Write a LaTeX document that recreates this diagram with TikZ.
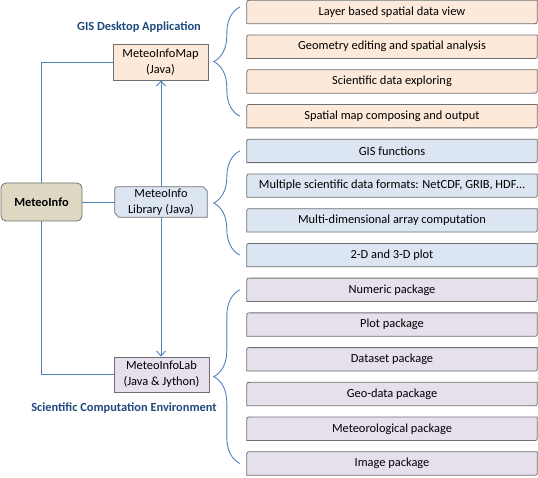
\documentclass[tikz,border=0pt]{standalone}
\usepackage{fontspec}
\setmainfont{Carlito}
\usetikzlibrary{arrows.meta,decorations.pathreplacing,backgrounds}
\definecolor{mapfill}{HTML}{FDE9D9}
\definecolor{libfill}{HTML}{DCE6F2}
\definecolor{labfill}{HTML}{E6E0EC}
\definecolor{infofill}{HTML}{DDD9C3}
\definecolor{linkblue}{HTML}{4F81BD}
\definecolor{headblue}{HTML}{1F497D}
\definecolor{edge}{HTML}{6F6F6F}
\tikzset{
  every node/.style={font=\fontsize{12.4}{16}\selectfont, inner sep=0pt, align=center},
  module/.style={draw=edge, line width=.8pt, minimum width=95pt, minimum height=36pt},
  feature/.style={minimum width=290pt, minimum height=23pt},
  link/.style={draw=linkblue, line width=.9pt},
  curly/.style={link, decorate, decoration={brace, amplitude=26pt}},
  heading/.style={text=headblue, font=\fontsize{12.4}{16}\selectfont\bfseries},
}
% outline with two rounded corners (top left, bottom right)
\newcommand\featurebox[2]{%
  \draw[draw=edge, line width=.8pt, fill=#2] (#1.north east) -- ([xshift=4pt]#1.north west)
    .. controls (#1.north west) .. ([yshift=-4pt]#1.north west) -- (#1.south west)
    -- ([xshift=-4pt]#1.south east) .. controls (#1.south east) .. ([yshift=4pt]#1.south east) -- cycle;}
\begin{document}
\begin{tikzpicture}[x=1pt,y=-1pt]
\useasboundingbox (0,0) rectangle (538,478);
% left column
\node[module, fill=infofill, rounded corners=5pt, minimum width=81pt, minimum height=38pt,
  font=\fontsize{12.4}{16}\selectfont\bfseries] (info) at (41.5,202) {MeteoInfo};
\node[module, fill=mapfill] (map) at (160.5,62) {MeteoInfoMap\\(Java)};
\node[minimum width=92pt, minimum height=30pt] (lib) at (161,202) {MeteoInfo\\Library (Java)};
\node[module, fill=labfill, minimum height=35pt] (lab) at (161.5,374.5) {MeteoInfoLab\\(Java \& Jython)};
\node[heading] (gis) at (139,27) {GIS Desktop Application};
\node[heading] (sci) at (124,408) {Scientific Computation Environment};
% feature boxes
\foreach \t [count=\i] in {Layer based spatial data view, Geometry editing and spatial analysis,
  Scientific data exploring, Spatial map composing and output}
  \node[feature] (mapf\i) at (392,{12+34.73*(\i-1)}) {\t};
\foreach \t [count=\i] in {GIS functions, {Multiple scientific data formats: NetCDF, GRIB, HDF…},
  Multi-dimensional array computation, 2-D and 3-D plot}
  \node[feature] (libf\i) at (392,{12+34.73*(\i+3)}) {\t};
\foreach \t [count=\i] in {Numeric package, Plot package, Dataset package, Geo-data package,
  Meteorological package, Image package}
  \node[feature] (labf\i) at (392,{12+34.73*(\i+7)}) {\t};
\begin{scope}[on background layer]
  \foreach \n in {1,...,4} {\featurebox{mapf\n}{mapfill}}
  \foreach \n in {1,...,4} {\featurebox{libf\n}{libfill}}
  \foreach \n in {1,...,6} {\featurebox{labf\n}{labfill}}
  \draw[draw=edge, line width=.8pt, fill=libfill] ([xshift=-4pt]lib.north east) -- ([xshift=3pt]lib.north west)
    .. controls (lib.north west) .. ([yshift=-3pt]lib.north west) -- ([yshift=4pt]lib.south west)
    -- ([xshift=4pt]lib.south west) -- (lib.south east) -- ([yshift=-4pt]lib.north east) -- cycle;
\end{scope}
% connectors
\draw[link] (info.north) |- (map.west);
\draw[link] (info.east) -- (lib.west);
\draw[link] (info.south) |- (lab.west);
\draw[link, -{Straight Barb[length=5pt, width=9pt]}] (lib.north) -- (lib.north |- map.south);
\draw[link, -{Straight Barb[length=5pt, width=9pt]}] (lib.south) -- (lib.south |- lab.north);
% braces
\draw[curly] ([xshift=-7pt]mapf4.west) -- ([xshift=-7pt, yshift=5pt]mapf1.west);
\draw[curly] ([xshift=-7pt]libf4.west) -- ([xshift=-7pt]libf1.west);
\draw[curly] ([xshift=-7pt]labf6.west) -- ([xshift=-7pt]labf1.west);
\end{tikzpicture}
\end{document}
